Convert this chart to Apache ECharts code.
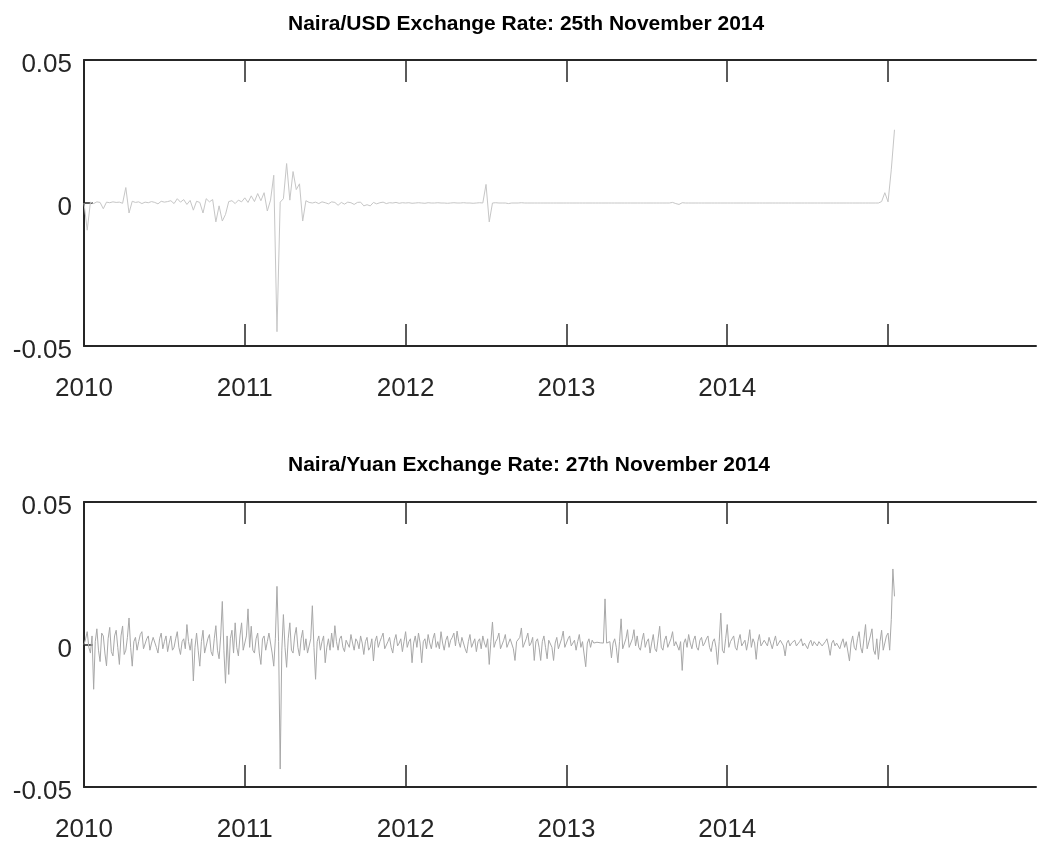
<!DOCTYPE html>
<html>
<head>
<meta charset="utf-8">
<script src="https://cdn.jsdelivr.net/npm/echarts@6/dist/echarts.min.js"></script>
<style>
html,body{margin:0;padding:0;background:#fff;}
#chart{width:1038px;height:843px;}
</style>
</head>
<body>
<div id="chart"></div>
<script>
// Observation spacing between stored points (trading-day index units)
var usdStep = 5;
var yuanStep = 2.5;
var yearLabels = ['2010','2011','2012','2013','2014'];
var yearTickObs = [0,250,500,750,1000,1250];
var yearLabelObs = [0,250,500,750,1000];
var titles = ['Naira/USD Exchange Rate: 25th November 2014','Naira/Yuan Exchange Rate: 27th November 2014'];

var usdReturns = [
0,-.0095,.0003,-.0002,.0004,.0002,-.002,.0003,.0001,.0004,
.0002,.0003,-.0001,.0054,-.0035,.0006,.0002,.0004,-.0002,.0003,
.0001,.0005,.0002,-.0003,.0006,.0003,.0005,.0008,-.0002,.0015,
.0003,.0012,-.0005,.0009,-.0025,.0006,.0002,-.0035,.0015,.0004,
.0012,-.0066,-.001,-.0063,-.004,.0005,.0008,-.0002,.001,.0004,
.0018,.0002,.0025,.0005,.0033,.0008,.0036,-.0028,.001,.0097,
-.045,.0003,.0015,.0138,.001,.011,.0047,.0067,-.0063,.0008,
.0002,0,.0003,-.0002,.0004,.0001,-.0003,.0004,.0002,-.0008,
.0002,-.0004,.0003,.0001,-.0005,.0002,.0003,-.001,-.0006,-.001,
.0002,-.0003,.0001,.0003,-.0002,.0001,0,.0002,-.0001,.0001,
0,.0001,-.0001,0,.0001,0,-.0001,.0001,0,0,
.0001,0,0,-.0001,0,.0001,0,0,.0001,0,
0,-.0001,0,.0001,0,.0065,-.0066,0,.0001,0,
0,0,-.0002,0,0,0,.0001,0,0,0,
0,0,0,0,0,0,0,0,0,0,
0,0,0,0,0,0,0,0,0,0,
0,0,0,0,0,0,0,0,0,0,
0,0,0,0,0,0,0,0,0,0,
0,0,0,.0002,-.0002,-.0005,.0001,0,0,0,
0,0,0,0,0,0,0,0,0,0,
0,0,0,0,0,0,0,0,0,0,
0,0,0,0,0,0,0,0,0,0,
0,0,0,0,0,0,0,0,0,0,
0,0,0,0,0,0,0,0,0,0,
0,0,0,0,0,0,0,0,.0005,.0036,
.0004,.0116,.0256
];

var yuanReturns = [
0,.002,.0045,-.001,-.003,.003,-.0157,.001,.0055,-.002,-.006,.004,.003,-.003,-.0075,.002,.006,-.0025,-.004,.003,
.005,-.001,-.007,.003,.0065,-.0035,-.002,.0025,.0093,-.001,-.0076,.001,.0025,-.002,.001,.0035,.0045,-.0015,-.002,.002,
.003,-.002,.0005,.0025,.002,-.001,-.003,.002,.004,-.0015,.001,.003,-.0025,.0005,.003,-.002,-.001,.002,.0045,-.001,
-.0035,.001,.002,-.0015,.007,.001,-.002,.002,-.0128,-.001,.004,-.002,-.0076,.001,.005,-.003,-.003,.002,.0035,-.0025,
-.004,.002,.0066,-.002,-.005,.003,.0151,-.002,-.0136,.003,-.0105,.002,.005,-.003,.0076,-.001,-.004,.003,.0076,-.002,
-.002,.003,.0125,-.001,.0064,-.002,-.003,.002,.004,-.003,-.007,.002,.003,-.002,.001,.004,.004,-.003,-.0076,.002,
.0204,.001,-.0437,-.002,.0105,-.001,-.008,.002,.0076,-.002,-.003,.003,.006,-.001,-.004,.002,.005,-.002,.002,-.003,
-.003,.002,.0136,-.001,-.0122,.001,.003,-.002,.001,.003,-.0064,-.001,.002,-.002,.004,-.001,.0066,.001,-.002,.002,
.003,-.001,-.0025,.0015,.002,-.001,.0035,.0005,-.002,.002,.001,-.0015,.003,.0005,-.0035,.001,.0025,-.002,-.001,.002,
-.0058,.001,.003,-.001,.001,.0025,.004,-.0015,-.002,.001,.0025,-.001,-.003,.0015,.0035,-.0005,.0005,.002,-.0025,.001,
.0045,-.001,.001,.002,-.0064,.0005,.003,-.001,.004,.0005,-.0064,.001,.002,-.0015,.0035,.0005,-.0015,.002,.004,-.001,
.001,-.0015,.0045,.0005,-.002,.0015,.003,-.001,.0015,.0025,.004,-.0005,.0047,.001,-.001,.0025,.002,-.0015,-.003,.001,
.0035,-.001,.0005,.002,-.0025,.001,.002,-.0015,.003,.0005,-.001,.002,-.007,.001,.0079,-.001,.001,.002,.004,-.0015,
-.002,.0015,.0035,-.001,.0005,.002,.002,-.0015,-.0056,.001,.001,.0025,.0058,-.001,-.001,.002,.004,-.0005,.0005,.0025,
-.0056,.001,.002,-.001,-.0056,.001,.003,-.001,-.005,.0015,.0015,-.001,-.0056,.0005,.0025,-.0015,-.002,.002,.0047,-.001,
-.0015,.002,.003,-.0005,.0005,.0015,-.002,.001,.0035,-.001,.001,.0015,-.0078,.0005,.002,-.001,.0015,.0005,.0005,.0008,
.0005,.0006,.0005,.0005,.016,.0005,.0005,.001,-.0047,.0005,.002,-.001,-.0064,.001,.009,-.0015,-.002,.002,.0052,-.001,
-.001,.002,.0052,-.0005,.003,-.001,-.002,.0015,.004,-.001,.001,.002,-.003,.0005,.0035,-.0015,-.0025,.002,.0064,-.001,
-.002,.0015,.003,-.001,.0005,.002,.0045,-.0005,.001,.0015,-.002,.001,-.0091,.0005,.002,-.001,.0035,.0005,-.0015,.0015,
.003,-.001,-.002,.0015,.0025,-.0005,.0005,.002,.003,-.001,-.0025,.001,.002,-.001,-.007,.001,.011,-.002,-.003,.002,
.007,-.001,.001,.002,.003,-.001,-.002,.0015,.0035,-.0005,.0005,.0015,-.002,.001,.0052,-.001,.002,.0005,-.0052,.001,
.0035,-.0005,-.001,.0015,.002,-.0005,.0025,.0005,-.0015,.001,.003,-.0005,.0005,.0015,.002,-.0005,-.004,.0005,.0015,-.0005,
.0005,.001,.0015,-.0005,-.001,.001,.002,-.0005,.0005,.001,-.0015,.0005,.0015,-.0005,.001,.0005,-.0005,.001,.0015,-.0005,
-.001,.001,.002,-.0005,-.0038,.0005,.0015,-.0005,.0005,.001,-.0015,.0005,.002,-.001,.001,.0015,-.0058,.0005,.003,-.001,
-.002,.002,.0045,-.001,-.003,.002,.007,-.0015,-.002,.003,.0055,-.002,-.0035,.002,-.0052,.001,.005,-.002,-.002,.003,
.004,-.002,.0087,.0265,.0169
];

function toPairs(arr, step){ return arr.map(function(v,i){ return [i*step, v]; }); }

var axisColor = '#262626';
var fontFam = '"Liberation Sans", Arial, Helvetica, sans-serif';
var grids = [
  {left:84, top:60, width:952, height:286},
  {left:84, top:502, width:952, height:286}
];

function xAxes(gi){
  var common = {
    type:'value', gridIndex:gi, min:0, max:1480, interval:250,
    splitLine:{show:false},
    axisLine:{show:true, onZero:false, lineStyle:{color:axisColor, width:2}},
    axisTick:{show:true, inside:true, length:22, customValues:yearTickObs, lineStyle:{color:axisColor, width:1.5}}
  };
  var bottom = Object.assign({}, common, {
    position:'bottom',
    axisLabel:{show:true, margin:30, fontSize:26, color:'#262626', fontFamily:fontFam,
      customValues:yearLabelObs,
      formatter:function(v){ var k = Math.round(v/250); return yearLabels[k] !== undefined ? yearLabels[k] : ''; }}
  });
  var top = Object.assign({}, common, {position:'top', axisLabel:{show:false}});
  return [bottom, top];
}
function yAxis(gi){
  return {
    type:'value', gridIndex:gi, min:-0.05, max:0.05, interval:0.05,
    splitLine:{show:false},
    axisLine:{show:true, onZero:false, lineStyle:{color:axisColor, width:2}},
    axisTick:{show:true, inside:true, length:9, lineStyle:{color:axisColor, width:1.5}},
    axisLabel:{margin:12, fontSize:26, color:'#262626', fontFamily:fontFam,
      verticalAlign:'top', lineHeight:10,
      formatter:function(v){ return Math.abs(v)<1e-12 ? '0' : String(+v.toFixed(2)); }}
  };
}

var chart = echarts.init(document.getElementById('chart'), null, {renderer:'canvas'});
chart.setOption({
  animation:false,
  backgroundColor:'#ffffff',
  title:[
    {text:titles[0], left:283, top:9,
     textStyle:{fontSize:21, fontWeight:'bold', color:'#000', fontFamily:fontFam}},
    {text:titles[1], left:283, top:450,
     textStyle:{fontSize:21, fontWeight:'bold', color:'#000', fontFamily:fontFam}}
  ],
  grid:grids,
  xAxis:[].concat(xAxes(0), xAxes(1)),
  yAxis:[yAxis(0), yAxis(1)],
  series:[
    {type:'line', xAxisIndex:0, yAxisIndex:0, data:toPairs(usdReturns, usdStep), showSymbol:false, symbol:'none',
     lineStyle:{color:'#c6c6c6', width:1}, z:1},
    {type:'line', xAxisIndex:2, yAxisIndex:1, data:toPairs(yuanReturns, yuanStep), showSymbol:false, symbol:'none',
     lineStyle:{color:'#a8a8a8', width:1}, z:1}
  ]
});
</script>
</body>
</html>
